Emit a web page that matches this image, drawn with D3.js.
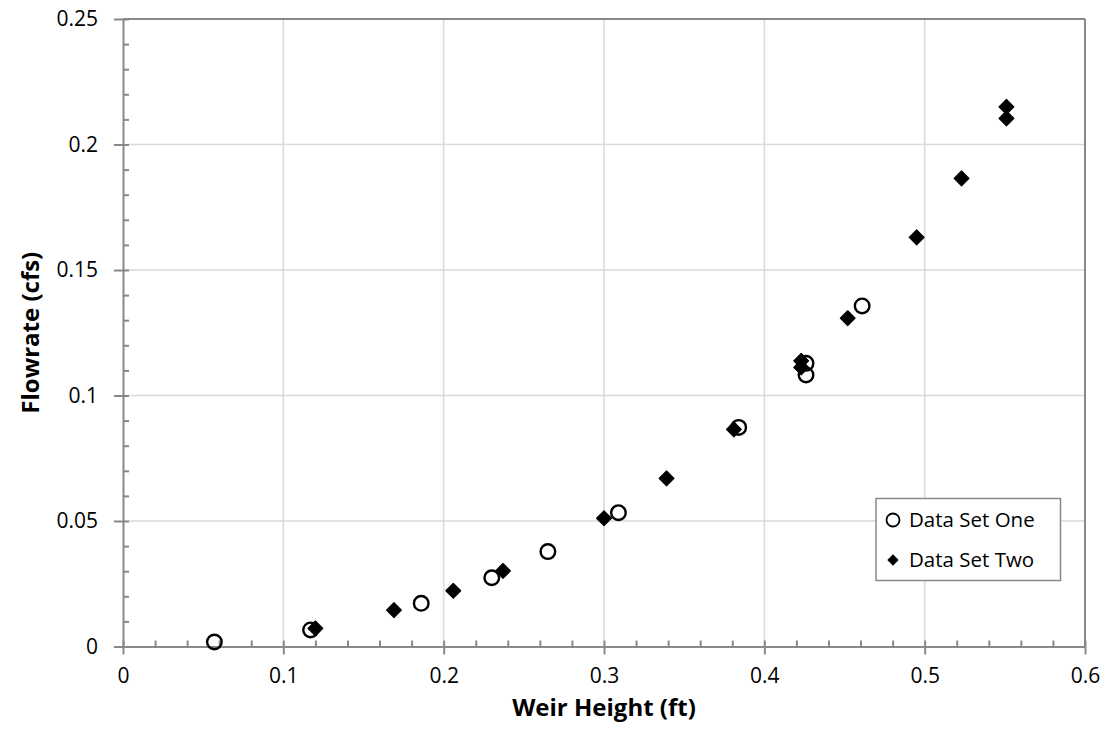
<!DOCTYPE html>
<html>
<head>
<meta charset="utf-8">
<script src="https://cdn.jsdelivr.net/npm/d3@7"></script>
<style>
  html, body { margin: 0; padding: 0; background: #fff; }
  svg { display: block; }
  text { font-family: "Open Sans", "Liberation Sans", sans-serif; fill: #000; }
</style>
</head>
<body>
<svg id="chart" width="1107" height="742"></svg>
<script>
// ---- data ----
const setOneX = [0.057, 0.117, 0.186, 0.230, 0.265, 0.309, 0.384, 0.426, 0.426, 0.461];
const setOneY = [0.0018, 0.0066, 0.0172, 0.0274, 0.0378, 0.0533, 0.0873, 0.1082, 0.1128, 0.1357];
const setTwoX = [0.120, 0.169, 0.206, 0.237, 0.300, 0.339, 0.381, 0.423, 0.423, 0.452, 0.495, 0.523, 0.551, 0.551];
const setTwoY = [0.0072, 0.0145, 0.0222, 0.0301, 0.0511, 0.0670, 0.0865, 0.1112, 0.1138, 0.1308, 0.1630, 0.1865, 0.2104, 0.2150];
const seriesNames = ["Data Set One", "Data Set Two"];
const xTickValues = [0, 0.1, 0.2, 0.3, 0.4, 0.5, 0.6];
const xTickLabels = ["0", "0.1", "0.2", "0.3", "0.4", "0.5", "0.6"];
const yTickValues = [0, 0.05, 0.1, 0.15, 0.2, 0.25];
const yTickLabels = ["0", "0.05", "0.1", "0.15", "0.2", "0.25"];
const xMinorStep = 0.02;
const yMinorStep = 0.01;
const xTitle = "Weir Height (ft)";
const yTitle = "Flowrate (cfs)";

// ---- layout ----
const svg = d3.select("#chart");
const L = 123, R = 1085, T = 19, B = 646.5;
const x = d3.scaleLinear().domain([0, 0.6]).range([L, R]);
const y = d3.scaleLinear().domain([0, 0.25]).range([B, T]);
const axisColor = "#898989";
const gridColor = "#d9d9d9";
const tickFont = 21;

// gridlines
const grid = svg.append("g");
grid.selectAll("line.vg").data(xTickValues.slice(1, -1)).join("line")
  .attr("x1", d => x(d)).attr("x2", d => x(d)).attr("y1", T).attr("y2", B)
  .attr("stroke", gridColor).attr("stroke-width", 1.5);
grid.selectAll("line.hg").data(yTickValues.slice(1, -1)).join("line")
  .attr("y1", d => y(d)).attr("y2", d => y(d)).attr("x1", L).attr("x2", R)
  .attr("stroke", gridColor).attr("stroke-width", 1.5);

// frame (top/right)
svg.append("line").attr("x1", L).attr("x2", R).attr("y1", T).attr("y2", T)
  .attr("stroke", axisColor).attr("stroke-width", 2);
svg.append("line").attr("x1", R).attr("x2", R).attr("y1", T).attr("y2", B)
  .attr("stroke", axisColor).attr("stroke-width", 2);

const xMinor = d3.range(0, 0.6 + 1e-9, xMinorStep);
const yMinor = d3.range(0, 0.25 + 1e-9, yMinorStep);

// minor ticks (inside)
const xMinorAxis = d3.axisTop(x).tickValues(xMinor).tickSize(6).tickFormat("");
const yMinorAxis = d3.axisRight(y).tickValues(yMinor).tickSize(6).tickFormat("");
svg.append("g").attr("transform", `translate(0,${B})`).call(xMinorAxis)
  .call(g => { g.select(".domain").remove(); g.selectAll("line").attr("stroke", axisColor).attr("stroke-width", 2); });
svg.append("g").attr("transform", `translate(${L},0)`).call(yMinorAxis)
  .call(g => { g.select(".domain").remove(); g.selectAll("line").attr("stroke", axisColor).attr("stroke-width", 2); });

// major axes
const xAxis = d3.axisBottom(x).tickValues(xTickValues).tickSizeInner(8).tickSizeOuter(0)
  .tickPadding(14).tickFormat((d, i) => xTickLabels[i]);
const yAxis = d3.axisLeft(y).tickValues(yTickValues).tickSizeInner(9).tickSizeOuter(0)
  .tickPadding(16).tickFormat((d, i) => yTickLabels[i]);
svg.append("g").attr("transform", `translate(0,${B})`).call(xAxis)
  .call(g => {
    g.select(".domain").attr("stroke", axisColor).attr("stroke-width", 2);
    g.selectAll("line").attr("stroke", axisColor).attr("stroke-width", 2);
    g.selectAll("text").attr("font-size", tickFont).attr("font-family", "Open Sans").attr("fill", "#000");
  });
svg.append("g").attr("transform", `translate(${L},0)`).call(yAxis)
  .call(g => {
    g.select(".domain").attr("stroke", axisColor).attr("stroke-width", 2);
    g.selectAll("line").attr("stroke", axisColor).attr("stroke-width", 2);
    g.selectAll("text").attr("font-size", tickFont).attr("font-family", "Open Sans").attr("fill", "#000");
  });

// axis titles
svg.append("text").attr("x", (L + R) / 2).attr("y", 716).attr("text-anchor", "middle")
  .attr("font-size", 24).attr("font-weight", "bold").text(xTitle);
svg.append("text").attr("transform", `translate(39,${(T + B) / 2}) rotate(-90)`)
  .attr("text-anchor", "middle").attr("font-size", 24).attr("font-weight", "bold").text(yTitle);

// markers
const setOne = setOneX.map((v, i) => ({ x: v, y: setOneY[i] }));
const setTwo = setTwoX.map((v, i) => ({ x: v, y: setTwoY[i] }));
const diamond = d3.symbol().type(d3.symbolSquare).size(110);

svg.append("g").selectAll("circle").data(setOne).join("circle")
  .attr("cx", d => x(d.x)).attr("cy", d => y(d.y)).attr("r", 7.3)
  .attr("fill", "none").attr("stroke", "#000").attr("stroke-width", 2.4);
svg.append("g").selectAll("path").data(setTwo).join("path")
  .attr("d", diamond)
  .attr("transform", d => `translate(${x(d.x)},${y(d.y)}) rotate(45)`)
  .attr("fill", "#000").attr("stroke", "#000").attr("stroke-width", 1.2).attr("stroke-linejoin", "round");

// legend
const lg = svg.append("g");
lg.append("rect").attr("x", 876).attr("y", 498.5).attr("width", 184.5).attr("height", 82)
  .attr("fill", "#fff").attr("stroke", axisColor).attr("stroke-width", 1.5);
lg.append("circle").attr("cx", 893).attr("cy", 520).attr("r", 6.5)
  .attr("fill", "none").attr("stroke", "#000").attr("stroke-width", 1.8);
lg.append("path").attr("d", d3.symbol().type(d3.symbolSquare).size(64))
  .attr("transform", "translate(893,560) rotate(45)").attr("fill", "#000");
lg.selectAll("text.lt").data(seriesNames).join("text")
  .attr("x", 909).attr("y", (d, i) => 520 + i * 40).attr("dy", "0.35em")
  .attr("font-size", 20.5).text(d => d);
</script>
</body>
</html>
